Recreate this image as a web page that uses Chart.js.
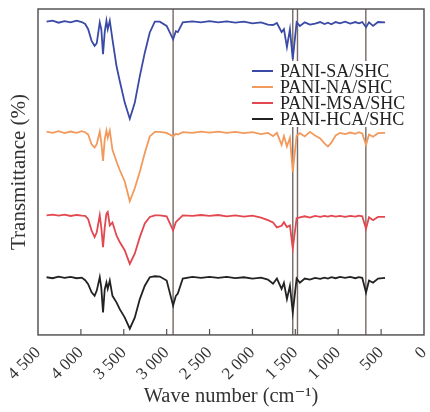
<!DOCTYPE html>
<html>
<head>
<meta charset="utf-8">
<script src="https://cdn.jsdelivr.net/npm/chart.js@4.4.1/dist/chart.umd.min.js"></script>
<style>
  html, body { margin: 0; padding: 0; background: #fff; }
  #wrap { width: 430px; height: 412px; }
</style>
</head>
<body>
<div id="wrap"><canvas id="ftir" width="430" height="412"></canvas></div>
<script>
// ── FTIR 스펙트럼 ────────────────────────────────────────────────────────────

var wavenumbers = [
  4400, 4330, 4260, 4190, 4120, 4050, 3990, 3950, 3915, 3875,
  3840, 3815, 3780, 3762, 3742, 3722, 3702, 3687, 3663, 3632,
  3585, 3547, 3488, 3430, 3372, 3313, 3255, 3197, 3138, 3080,
  3000, 2925, 2893, 2870, 2812, 2700, 2600, 2500, 2400, 2300,
  2200, 2100, 2000, 1900, 1820, 1760, 1715, 1660, 1633, 1598,
  1563, 1530, 1485, 1447, 1390, 1330, 1270, 1210, 1160, 1120,
  1080, 1030, 980, 920, 860, 800, 760, 720, 676, 641,
  594, 536, 454
];

var saValues = [
  96.1, 96.4, 95.8, 96.3, 95.9, 96.4, 96.0, 95.4, 93.8, 90.2,
  88.7, 89.5, 95.9, 93.8, 86.1, 93.0, 96.4, 93.8, 96.4, 90.7,
  82.5, 77.9, 71.2, 66.3, 71.2, 79.4, 86.6, 92.8, 96.1, 96.1,
  94.8, 90.7, 93.2, 92.9, 95.9, 96.2, 95.9, 96.3, 95.9, 96.2,
  95.8, 96.1, 95.6, 95.9, 95.2, 95.1, 95.7, 92.9, 93.8, 88.3,
  93.8, 84.6, 95.9, 94.8, 95.9, 95.2, 95.5, 96.0, 95.4, 95.8,
  95.3, 96.0, 95.6, 96.1, 95.5, 96.0, 95.6, 96.0, 94.4, 95.9,
  94.8, 96.0, 95.9
];

var naValues = [
  62.4, 62.0, 62.5, 61.9, 62.4, 62.0, 62.5, 62.2, 61.5, 58.5,
  57.5, 58.5, 62.4, 59.0, 53.4, 60.0, 62.7, 60.5, 62.7, 56.8,
  53.2, 50.6, 47.0, 41.0, 45.0, 50.1, 55.8, 60.9, 62.3, 62.3,
  62.0, 60.9, 61.7, 61.5, 62.2, 62.0, 62.4, 62.1, 62.4, 62.0,
  62.3, 61.9, 62.2, 61.6, 62.0, 61.0, 62.0, 58.3, 61.0, 57.8,
  60.5, 50.1, 61.1, 61.9, 60.9, 62.3, 61.2, 60.3, 58.8, 57.8,
  59.0, 61.2, 62.0, 61.6, 62.1, 61.7, 62.2, 61.8, 58.3, 61.5,
  60.8, 61.9, 62.0
];

var msaValues = [
  36.7, 36.9, 36.6, 36.9, 36.5, 36.8, 36.6, 36.5, 35.5, 32.0,
  30.0, 31.5, 36.7, 33.0, 26.9, 33.0, 37.2, 37.7, 33.6, 34.5,
  30.5, 28.5, 25.9, 21.8, 24.9, 30.0, 34.2, 36.2, 36.7, 36.7,
  36.4, 32.1, 34.6, 35.2, 36.7, 36.5, 36.8, 36.5, 36.8, 36.4,
  36.7, 36.3, 36.6, 36.0, 35.2, 34.5, 33.0, 33.5, 34.6, 33.1,
  33.6, 26.5, 35.8, 36.1, 36.4, 36.0, 36.5, 36.2, 36.5, 36.3,
  36.6, 36.3, 36.5, 36.2, 36.5, 36.3, 36.6, 36.4, 32.6, 36.1,
  35.2, 36.2, 36.2
];

var hcaValues = [
  17.7, 17.4, 17.9, 17.5, 17.8, 17.4, 17.6, 16.8, 15.6, 13.1,
  12.0, 13.6, 17.7, 14.5, 6.9, 14.0, 16.1, 14.2, 16.7, 12.0,
  10.0, 7.9, 5.3, 1.9, 5.3, 11.0, 15.1, 17.7, 18.0, 17.9,
  16.7, 9.0, 12.0, 12.7, 17.3, 17.8, 17.5, 17.8, 17.5, 17.8,
  17.4, 17.7, 17.3, 17.6, 17.0, 15.7, 17.3, 14.1, 16.0, 11.0,
  15.1, 6.9, 17.3, 16.0, 17.3, 17.0, 17.5, 17.2, 17.6, 17.3,
  17.7, 17.4, 17.8, 17.5, 17.8, 17.4, 17.7, 17.5, 13.0, 16.7,
  16.0, 17.3, 17.5
];

var seriesLabels = ["PANI-SA/SHC", "PANI-NA/SHC", "PANI-MSA/SHC", "PANI-HCA/SHC"];
var seriesColors = ["#3a4aa6", "#f29a5c", "#e3474f", "#222222"];

var tickValues = [4500, 4000, 3500, 3000, 2500, 2000, 1500, 1000, 500, 0];
var tickLabels = ["4 500", "4 000", "3 500", "3 000", "2 500", "2 000", "1 500", "1 000", "500", "0"];

// 표시용 세로선 (cm-1)
var markerLines = [2925, 1530, 1475, 678];

var SERIF = "'Liberation Serif', 'DejaVu Serif', serif";

function toPoints(values) {
  return values.map(function(v, i) { return { x: wavenumbers[i], y: v }; });
}

var frameAndMarkers = {
  id: "frameAndMarkers",
  beforeDatasetsDraw: function(chart) {
    var ctx = chart.ctx, a = chart.chartArea, xs = chart.scales.x;
    ctx.save();
    ctx.strokeStyle = "#766864";
    ctx.lineWidth = 1.4;
    markerLines.forEach(function(w) {
      var px = xs.getPixelForValue(w);
      ctx.beginPath(); ctx.moveTo(px, a.top); ctx.lineTo(px, a.bottom); ctx.stroke();
    });
    ctx.restore();
  },
  afterDatasetsDraw: function(chart) {
    var ctx = chart.ctx, a = chart.chartArea, xs = chart.scales.x;
    ctx.save();

    // legend box
    var lx = a.right - 176, ly = a.top + 52;
    ctx.fillStyle = "#ffffff";
    ctx.fillRect(lx, ly, 168, 66);
    ctx.font = "18px " + SERIF;
    ctx.textBaseline = "middle";
    ctx.textAlign = "left";
    chart.data.datasets.forEach(function(ds, i) {
      var ry = a.top + 62 + i * 16;
      ctx.strokeStyle = ds.borderColor;
      ctx.lineWidth = 2;
      ctx.beginPath(); ctx.moveTo(lx + 4, ry); ctx.lineTo(lx + 25, ry); ctx.stroke();
      ctx.fillStyle = "#222";
      ctx.fillText(ds.label, lx + 32, ry + 1);
    });

    // frame + inner ticks
    ctx.strokeStyle = "#555";
    ctx.lineWidth = 1.5;
    ctx.strokeRect(a.left, a.top, a.right - a.left, a.bottom - a.top);
    ctx.lineWidth = 1.2;
    tickValues.forEach(function(t) {
      if (t === 4500 || t === 0) return;
      var px = xs.getPixelForValue(t);
      ctx.beginPath(); ctx.moveTo(px, a.bottom); ctx.lineTo(px, a.bottom - 6); ctx.stroke();
    });
    ctx.restore();
  }
};

var chartData = [saValues, naValues, msaValues, hcaValues];

new Chart(document.getElementById("ftir").getContext("2d"), {
  type: "line",
  data: {
    datasets: chartData.map(function(vals, i) {
      return {
        label: seriesLabels[i],
        data: toPoints(vals),
        borderColor: seriesColors[i],
        borderWidth: 1.8,
        pointRadius: 0,
        tension: 0,
        fill: false
      };
    })
  },
  options: {
    responsive: false,
    animation: false,
    layout: { padding: { top: 9, right: 6, left: 2, bottom: 3 } },
    plugins: {
      legend: { display: false },
      tooltip: { enabled: false }
    },
    scales: {
      x: {
        type: "linear",
        reverse: true,
        min: 0,
        max: 4500,
        afterBuildTicks: function(scale) {
          scale.ticks = tickValues.map(function(v) { return { value: v }; });
        },
        afterFit: function(scale) {
          scale.paddingRight = 0;
          scale.paddingLeft = 30;
        },
        grid: { display: false },
        border: { display: false },
        ticks: {
          minRotation: 45,
          maxRotation: 45,
          padding: 0,
          color: "#333",
          font: { family: SERIF, size: 17 },
          callback: function(v) {
            var idx = tickValues.indexOf(v);
            return idx >= 0 ? tickLabels[idx] : "";
          }
        },
        title: {
          display: true,
          text: "Wave number (cm\u207B\u00B9)",
          color: "#333",
          font: { family: SERIF, size: 20.5 },
          padding: { top: 0, bottom: 0 }
        }
      },
      y: {
        min: 0,
        max: 100,
        afterFit: function(scale) {
          scale.width = 36;
        },
        grid: { display: false },
        border: { display: false },
        ticks: { display: false },
        title: {
          display: true,
          text: "Transmittance (%)",
          color: "#333",
          font: { family: SERIF, size: 21 },
          padding: { top: 5, bottom: 0 }
        }
      }
    }
  },
  plugins: [frameAndMarkers]
});
</script>
</body>
</html>
